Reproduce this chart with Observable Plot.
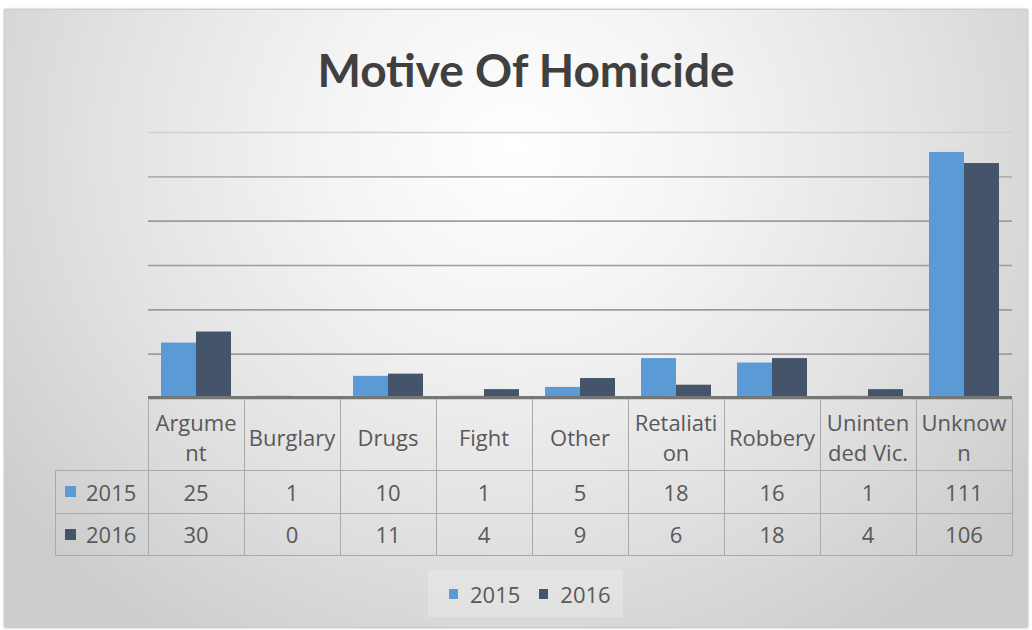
<!DOCTYPE html>
<html>
<head>
<meta charset="utf-8">
<script src="https://cdn.jsdelivr.net/npm/d3@7"></script>
<script src="https://cdn.jsdelivr.net/npm/@observablehq/plot@0.6"></script>
<style>
  body { margin: 0; width: 1032px; height: 630px; background: #ffffff; overflow: hidden; font-family: "Open Sans", sans-serif; position: relative; }
  #panel { position: absolute; left: 5px; top: 10px; width: 1022px; height: 617px;
    background: radial-gradient(ellipse 62% 95% at 50% 22%, #ffffff 0%, #f4f4f4 30%, #e2e2e2 65%, #cdcdcd 100%);
    box-shadow: 0 0 2px 1px #b5b5b5; }
  #title { position: absolute; left: 0; top: 47px; width: 1052px; text-align: center; font-family: Lato, sans-serif; font-weight: bold; font-size: 46px; line-height: 46px; color: #404040; }
  #chart { position: absolute; left: 0; top: 120px; }
  .cell { position: absolute; display: flex; align-items: center; justify-content: center; text-align: center; white-space: pre-line; font-size: 22px; line-height: 30px; color: #595959; }
  .line { position: absolute; background: #a9a9a9; }
  .sw { display: inline-block; }
</style>
</head>
<body>
<div id="panel"></div>
<div id="title">Motive Of Homicide</div>
<div id="chart"></div>
<div id="table"></div>
<div id="legend"></div>
<script>
const categories = ["Argument", "Burglary", "Drugs", "Fight", "Other", "Retaliation", "Robbery", "Unintended Vic.", "Unknown"];
const headerLabels = ["Argume\nnt", "Burglary", "Drugs", "Fight", "Other", "Retaliati\non", "Robbery", "Uninten\nded Vic.", "Unknow\nn"];
const series = ["2015", "2016"];
const values2015 = [25, 1, 10, 1, 5, 18, 16, 1, 111];
const values2016 = [30, 0, 11, 4, 9, 6, 18, 4, 106];
const yTicks = [20, 40, 60, 80, 100, 120];
const seriesColors = ["#5b9bd5", "#44546a"];

const data = categories.flatMap((c, i) => [
  {category: c, year: series[0], value: values2015[i]},
  {category: c, year: series[1], value: values2016[i]}
]);

const W = 1032, ML = 146, MR = 19, H = 280, MT = 12, MB = 2, TOP = 120;

const gridColor = v => v === 120 ? "#d0d0d0" : v === 100 ? "#b0b0b0" : "#9c9c9c";

const plot = Plot.plot({
  width: W, height: H,
  marginLeft: ML, marginRight: MR, marginTop: MT, marginBottom: MB,
  style: {background: "transparent", overflow: "visible"},
  fx: {domain: categories, padding: 0, axis: null},
  x: {domain: series, paddingInner: 0, paddingOuter: 0.36, axis: null},
  y: {domain: [0, 120], axis: null},
  color: {domain: series, range: seriesColors},
  marks: [
    Plot.ruleY(yTicks, {stroke: d => gridColor(d), strokeWidth: 1.7}),
    Plot.barY(data, {fx: "category", x: "year", y: "value", fill: "year"}),
    Plot.ruleY([0], {stroke: "#767676", strokeWidth: 3.4, dy: -0.9})
  ]
});
document.getElementById("chart").appendChild(plot);

// column geometry from the facet scale
let colLeft, colW;
try {
  const fxs = plot.scale("fx");
  colLeft = c => fxs.apply(c);
  colW = fxs.bandwidth || fxs.step;
  if (!isFinite(colLeft(categories[0])) || !isFinite(colW)) throw 0;
} catch (e) {
  colW = (W - ML - MR) / categories.length;
  colLeft = c => ML + categories.indexOf(c) * colW;
}
const yScale = plot.scale("y");
const baseY = TOP + yScale.apply(0);

const table = document.getElementById("table");
function add(cls, x, y, w, h, text, extra) {
  const d = document.createElement("div");
  d.className = cls;
  Object.assign(d.style, {left: x + "px", top: y + "px", width: w + "px", height: h + "px"}, extra || {});
  if (text != null) d.textContent = text;
  table.appendChild(d);
  return d;
}
const tLeft = 55, xEnd = colLeft(categories[categories.length - 1]) + colW;
const headTop = baseY + 1, row1 = 470, row2 = 513, tBottom = 555;

// header labels and values
categories.forEach((c, i) => {
  add("cell", colLeft(c), headTop, colW, row1 - headTop, headerLabels[i], {paddingTop: "4px", boxSizing: "border-box"});
  add("cell", colLeft(c), row1, colW, row2 - row1, String(values2015[i]));
  add("cell", colLeft(c), row2, colW, tBottom - row2, String(values2016[i]));
});
// table grid lines
categories.forEach(c => add("line", colLeft(c), headTop, 1, tBottom - headTop));
add("line", xEnd, headTop, 1, tBottom - headTop);
add("line", tLeft, row1, 1, tBottom - row1);
add("line", tLeft, row1, xEnd - tLeft, 1);
add("line", tLeft, row2, xEnd - tLeft, 1);
add("line", tLeft, tBottom, xEnd - tLeft + 1, 1);
// row labels
[[row1, row2], [row2, tBottom]].forEach(([a, b], k) => {
  const d = add("cell", tLeft, a, ML - tLeft, b - a, null, {justifyContent: "flex-start"});
  d.innerHTML = `<span class="sw" style="width:11px;height:11px;background:${seriesColors[k]};margin-left:10px;margin-right:10px"></span><span>${series[k]}</span>`;
});

// legend
const lg = document.getElementById("legend");
Object.assign(lg.style, {position: "absolute", left: "428px", top: "570px", width: "195px", height: "47px",
  background: "rgba(255,255,255,0.22)", display: "flex", alignItems: "center", fontSize: "22px", color: "#595959"});
lg.innerHTML = series.map((s, k) =>
  `<span class="sw" style="width:9px;height:10px;background:${seriesColors[k]};margin-left:${k ? 19 : 21}px;margin-right:12px"></span><span>${s}</span>`
).join("");
</script>
</body>
</html>
